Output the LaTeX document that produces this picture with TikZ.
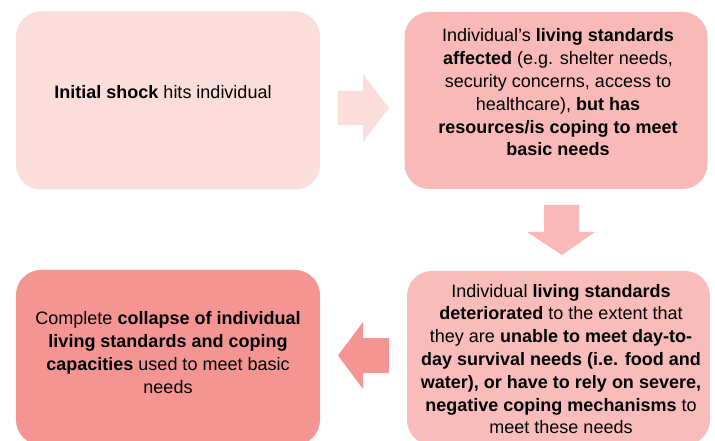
\documentclass[tikz,border=0pt]{standalone}
\usepackage{fontspec}
\setmainfont{Liberation Sans}
\definecolor{stageA}{HTML}{FBDDDC}
\definecolor{stageB}{HTML}{F8B9B8}
\definecolor{stageC}{HTML}{F8BCBB}
\definecolor{stageD}{HTML}{F49593}
\begin{document}
\begin{tikzpicture}[x=1bp,y=-1bp,
  stagebox/.style={draw=none, rounded corners=25bp, inner sep=0pt,
    minimum width=304bp},
  stagetext/.style={font=\fontsize{18bp}{22.8bp}\selectfont, align=center,
    inner sep=0pt, text=black}]
\useasboundingbox (0,0) rectangle (715,441);
\begin{scope}
\clip (0,0) rectangle (715,441);

% stage boxes
\node[stagebox, fill=stageA, minimum height=178bp] (shock) at (168,100.5) {};
\node[stagebox, fill=stageB, minimum height=177bp, minimum width=303bp] (affected) at (556,100.5) {};
\node[stagebox, fill=stageC, minimum height=174bp, minimum width=303bp] (deteriorated) at (558.5,358) {};
\node[stagebox, fill=stageD, minimum height=175bp] (collapse) at (168,357.5) {};

% block arrows between stages
\fill[stageA] (338,91) -- (363,91) -- (363,74) -- (389,108)
  -- (363,142) -- (363,125) -- (338,125) -- cycle;
\fill[stageB] (544,205) -- (579,205) -- (579,232) -- (595,232)
  -- (562,255) -- (527,232) -- (544,232) -- cycle;
\fill[stageD] (389,338) -- (363,338) -- (363,322) -- (338,355.5)
  -- (363,389) -- (363,373) -- (389,373) -- cycle;

% texts
\node[stagetext] (shocktext) at (163,92.5) {\textbf{Initial shock} hits individual};
\node[stagetext] (affectedtext) at (558,92.5) {Individual’s \textbf{living standards}\\
\textbf{affected} (e.g. shelter needs,\\
security concerns, access to\\
healthcare), \textbf{but has}\\
\textbf{resources/is coping to meet}\\
\textbf{basic needs}};
\node[stagetext] (deterioratedtext) at (561,359) {Individual \textbf{living standards}\\
\textbf{deteriorated} to the extent that\\
they are \textbf{unable to meet day-to-}\\
\textbf{day survival needs (i.e. food and}\\
\textbf{water), or have to rely on severe,}\\
\textbf{negative coping mechanisms} to\\
meet these needs};
\node[stagetext] (collapsetext) at (168,352.5) {Complete \textbf{collapse of individual}\\
\textbf{living standards and coping}\\
\textbf{capacities} used to meet basic\\
needs};
\end{scope}
\end{tikzpicture}
\end{document}
